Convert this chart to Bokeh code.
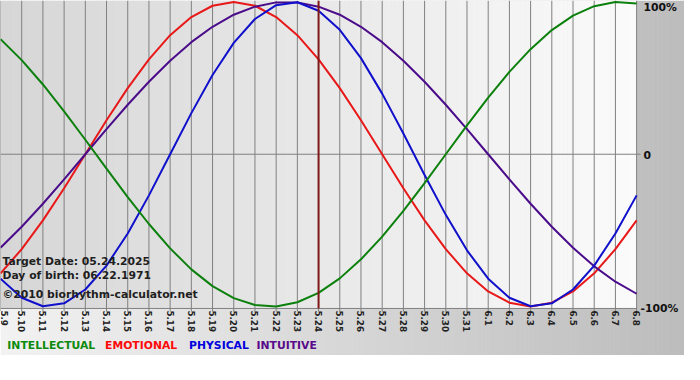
import math
from bokeh.plotting import figure
from bokeh.models import Range1d
from bokeh.core.properties import value
from bokeh.embed import file_html
from bokeh.resources import INLINE

# ---------------- data ----------------
tick_labels = ["5.9", "5.10", "5.11", "5.12", "5.13", "5.14", "5.15", "5.16", "5.17",
               "5.18", "5.19", "5.20", "5.21", "5.22", "5.23", "5.24", "5.25", "5.26",
               "5.27", "5.28", "5.29", "5.30", "5.31", "6.1", "6.2", "6.3", "6.4",
               "6.5", "6.6", "6.7", "6.8"]
days = list(range(len(tick_labels)))

intellectual = [0.756, 0.618, 0.458, 0.282, 0.095, -0.095, -0.282, -0.458, -0.618, -0.756,
                -0.866, -0.945, -0.990, -0.999, -0.972, -0.910, -0.815, -0.690, -0.541, -0.372,
                -0.189, 0.000, 0.189, 0.372, 0.541, 0.690, 0.815, 0.910, 0.972, 0.999, 0.990]
emotional = [-0.782, -0.623, -0.434, -0.223, 0.000, 0.223, 0.434, 0.623, 0.782, 0.901,
             0.975, 1.000, 0.975, 0.901, 0.782, 0.623, 0.434, 0.223, 0.000, -0.223,
             -0.434, -0.623, -0.782, -0.901, -0.975, -1.000, -0.975, -0.901, -0.782, -0.623, -0.434]
physical = [-0.817, -0.942, -0.998, -0.979, -0.888, -0.731, -0.520, -0.270, 0.000, 0.270,
            0.520, 0.731, 0.888, 0.979, 0.998, 0.942, 0.817, 0.631, 0.398, 0.136,
            -0.136, -0.398, -0.631, -0.817, -0.942, -0.998, -0.979, -0.888, -0.731, -0.520, -0.270]
intuitive = [-0.614, -0.476, -0.325, -0.165, 0.000, 0.165, 0.325, 0.476, 0.614, 0.736,
             0.837, 0.916, 0.969, 0.997, 0.997, 0.969, 0.916, 0.837, 0.736, 0.614,
             0.476, 0.325, 0.165, 0.000, -0.165, -0.325, -0.476, -0.614, -0.736, -0.837, -0.916]

target_index = 15  # 5.24
info_lines = ["Target Date: 05.24.2025", "Day of birth: 06.22.1971", "\u00a92010 biorhythm-calculator.net"]
legend_names = ["INTELLECTUAL", "EMOTIONAL", "PHYSICAL", "INTUITIVE"]
pct_labels = ["100%", "0", "-100%"]

# ---------------- layout (pixels, in the 700x380 reference frame) ----------------
W, H = 684, 364
SX, SY = W / 700.0, H / 380.0


def cx(px):   # reference x pixel -> data x (days)
    return px * SX / D


def cy(py):   # reference y pixel -> data y (value)
    return (Y0 - py * SY) / S


PLOT_R = 651.0                      # reference px of right plot edge
D = PLOT_R * SX / (len(days) - 1)   # canvas px per day
Y0 = 160.5 * SY                     # canvas y of value 0
S = 159.0 * SY                      # canvas px per unit value
PLOT_B = 321.5                      # reference px of plot bottom
GRAY_B = 370.0                      # reference px where grey band ends

p = figure(width=W, height=H, output_backend="svg", toolbar_location=None,
           x_axis_type=None, y_axis_type=None, title=None,
           x_range=Range1d(0, W / D), y_range=Range1d((Y0 - H) / S, Y0 / S),
           min_border=0, min_border_left=0, min_border_right=0,
           min_border_top=0, min_border_bottom=0)
p.outline_line_color = None
p.background_fill_color = "#ffffff"
p.border_fill_color = "#ffffff"


def lerp_hex(c0, c1, t):
    v = int(round(c0 + (c1 - c0) * t))
    return "#%02x%02x%02x" % (v, v, v)


# outer gradient band
step = 4
lefts, rights, cols = [], [], []
i = 0.0
while i < 700:
    lefts.append(cx(i))
    rights.append(cx(i + step + 0.6))
    cols.append(lerp_hex(0xf2, 0xbc, i / 700.0))
    i += step
p.quad(left=lefts, right=rights, top=cy(0), bottom=cy(GRAY_B), fill_color=cols, line_color=None)

# plot area gradient
lefts, rights, cols = [], [], []
i = 0.0
while i < PLOT_R:
    lefts.append(cx(i))
    rights.append(cx(min(i + step + 0.6, PLOT_R)))
    cols.append(lerp_hex(0xd6, 0xfb, i / PLOT_R))
    i += step
p.quad(left=lefts, right=rights, top=cy(0), bottom=cy(PLOT_B), fill_color=cols, line_color=None)

# grid lines
grid_col = "#808080"
p.segment(x0=days, y0=[cy(0)] * len(days), x1=days, y1=[cy(PLOT_B + 3)] * len(days),
          line_color=grid_col, line_width=1)
p.segment(x0=[0], y0=[0], x1=[cx(PLOT_R + 4)], y1=[0], line_color=grid_col, line_width=1)
p.segment(x0=[0], y0=[cy(PLOT_B)], x1=[days[-1]], y1=[cy(PLOT_B)], line_color=grid_col, line_width=1)

# curves
p.line(days, emotional, line_color="#e81818", line_width=2, line_join="round")
p.line(days, intuitive, line_color="#4a0c8a", line_width=2, line_join="round")
p.line(days, physical, line_color="#1010cc", line_width=2, line_join="round")
p.line(days, intellectual, line_color="#0c800c", line_width=2, line_join="round")

# target date marker
p.segment(x0=[days[target_index]], y0=[cy(0)], x1=[days[target_index]], y1=[cy(PLOT_B)],
          line_color="#801818", line_width=2)

FONT = value("DejaVu Sans")

# tick labels (rotated, reading downward); first one nudged inside the edge
tick_x = [cx(4)] + days[1:]
p.text(x=tick_x, y=[cy(PLOT_B + 2)] * len(days), text=tick_labels, angle=-math.pi / 2,
       text_align="left", text_baseline="middle", text_font=FONT,
       text_font_style="bold", text_font_size="8.8px", text_color="#222222")

# percentage labels on the right
p.text(x=[cx(658), cx(658), cx(655)], y=[cy(7.5), cy(161.5), cy(322)], text=pct_labels,
       text_align="left", text_baseline="middle", text_font=FONT,
       text_font_style="bold", text_font_size="10.8px", text_color="#111111")

# info texts
p.text(x=[cx(2)] * 3, y=[cy(272), cy(287), cy(307)], text=info_lines,
       text_align="left", text_baseline="middle", text_font=FONT,
       text_font_style="bold", text_font_size="10.8px", text_color="#1e1e1e")

# legend
legend_colors = ["#0e8a0e", "#ff0a0a", "#0000dd", "#580a8a"]
legend_px = [7, 107, 193, 262]
p.text(x=[cx(v) for v in legend_px], y=[cy(360)] * 4, text=legend_names,
       text_align="left", text_baseline="middle", text_font=FONT,
       text_font_style="bold", text_font_size="10.8px", text_color=legend_colors)

open("out.html", "w").write(file_html(p, INLINE))
